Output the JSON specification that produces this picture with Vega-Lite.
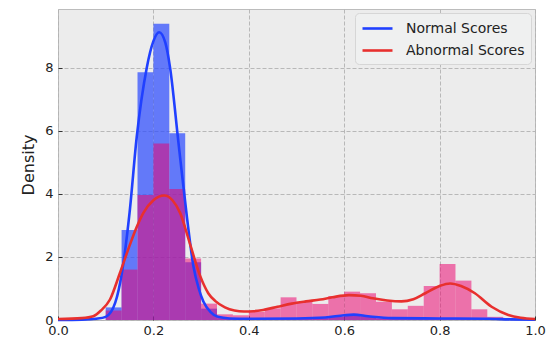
{
  "$schema": "https://vega.github.io/schema/vega-lite/v6.json",
  "width": 477,
  "height": 311,
  "autosize": {"type": "none"},
  "padding": {"left": 58, "top": 9, "right": 11, "bottom": 18},
  "background": "#ffffff",
  "config": {
    "view": {"fill": "#ececec", "stroke": "#bcbcbc", "strokeWidth": 1},
    "font": "DejaVu Sans",
    "axis": {
      "labelFont": "DejaVu Sans",
      "labelFontSize": 13,
      "labelColor": "#222222",
      "labelFlush": false,
      "titleFont": "DejaVu Sans",
      "titleFontWeight": "normal",
      "titleColor": "#222222",
      "domain": false,
      "grid": true,
      "gridColor": "#b2b2b2",
      "gridDash": [4, 2],
      "gridWidth": 0.9,
      "ticks": true,
      "tickSize": -4,
      "tickColor": "#333333",
      "tickWidth": 1
    },
    "legend": {
      "labelFont": "DejaVu Sans",
      "labelFontSize": 14,
      "labelColor": "#222222"
    }
  },
  "datasets": {
    "hist": [
      {"bin_start": 0.1000, "bin_end": 0.1333, "density": 0.40, "series": "Normal Scores"},
      {"bin_start": 0.1333, "bin_end": 0.1667, "density": 2.86, "series": "Normal Scores"},
      {"bin_start": 0.1667, "bin_end": 0.2000, "density": 7.86, "series": "Normal Scores"},
      {"bin_start": 0.2000, "bin_end": 0.2333, "density": 9.40, "series": "Normal Scores"},
      {"bin_start": 0.2333, "bin_end": 0.2667, "density": 5.93, "series": "Normal Scores"},
      {"bin_start": 0.2667, "bin_end": 0.3000, "density": 1.83, "series": "Normal Scores"},
      {"bin_start": 0.3000, "bin_end": 0.3333, "density": 0.36, "series": "Normal Scores"},
      {"bin_start": 0.3333, "bin_end": 0.3667, "density": 0.06, "series": "Normal Scores"},
      {"bin_start": 0.3667, "bin_end": 0.4000, "density": 0.04, "series": "Normal Scores"},
      {"bin_start": 0.4000, "bin_end": 0.4333, "density": 0.04, "series": "Normal Scores"},
      {"bin_start": 0.4333, "bin_end": 0.4667, "density": 0.04, "series": "Normal Scores"},
      {"bin_start": 0.4667, "bin_end": 0.5000, "density": 0.04, "series": "Normal Scores"},
      {"bin_start": 0.5000, "bin_end": 0.5333, "density": 0.05, "series": "Normal Scores"},
      {"bin_start": 0.5333, "bin_end": 0.5667, "density": 0.06, "series": "Normal Scores"},
      {"bin_start": 0.5667, "bin_end": 0.6000, "density": 0.10, "series": "Normal Scores"},
      {"bin_start": 0.6000, "bin_end": 0.6333, "density": 0.17, "series": "Normal Scores"},
      {"bin_start": 0.6333, "bin_end": 0.6667, "density": 0.12, "series": "Normal Scores"},
      {"bin_start": 0.6667, "bin_end": 0.7000, "density": 0.05, "series": "Normal Scores"},
      {"bin_start": 0.7000, "bin_end": 0.7333, "density": 0.04, "series": "Normal Scores"},
      {"bin_start": 0.7333, "bin_end": 0.7667, "density": 0.04, "series": "Normal Scores"},
      {"bin_start": 0.7667, "bin_end": 0.8000, "density": 0.05, "series": "Normal Scores"},
      {"bin_start": 0.8000, "bin_end": 0.8333, "density": 0.05, "series": "Normal Scores"},
      {"bin_start": 0.8333, "bin_end": 0.8667, "density": 0.04, "series": "Normal Scores"},
      {"bin_start": 0.8667, "bin_end": 0.9000, "density": 0.03, "series": "Normal Scores"},
      {"bin_start": 0.1000, "bin_end": 0.1333, "density": 0.30, "series": "Abnormal Scores"},
      {"bin_start": 0.1333, "bin_end": 0.1667, "density": 1.60, "series": "Abnormal Scores"},
      {"bin_start": 0.1667, "bin_end": 0.2000, "density": 3.97, "series": "Abnormal Scores"},
      {"bin_start": 0.2000, "bin_end": 0.2333, "density": 5.60, "series": "Abnormal Scores"},
      {"bin_start": 0.2333, "bin_end": 0.2667, "density": 4.16, "series": "Abnormal Scores"},
      {"bin_start": 0.2667, "bin_end": 0.3000, "density": 1.95, "series": "Abnormal Scores"},
      {"bin_start": 0.3000, "bin_end": 0.3333, "density": 0.52, "series": "Abnormal Scores"},
      {"bin_start": 0.3333, "bin_end": 0.3667, "density": 0.18, "series": "Abnormal Scores"},
      {"bin_start": 0.3667, "bin_end": 0.4000, "density": 0.15, "series": "Abnormal Scores"},
      {"bin_start": 0.4000, "bin_end": 0.4333, "density": 0.26, "series": "Abnormal Scores"},
      {"bin_start": 0.4333, "bin_end": 0.4667, "density": 0.37, "series": "Abnormal Scores"},
      {"bin_start": 0.4667, "bin_end": 0.5000, "density": 0.72, "series": "Abnormal Scores"},
      {"bin_start": 0.5000, "bin_end": 0.5333, "density": 0.58, "series": "Abnormal Scores"},
      {"bin_start": 0.5333, "bin_end": 0.5667, "density": 0.51, "series": "Abnormal Scores"},
      {"bin_start": 0.5667, "bin_end": 0.6000, "density": 0.76, "series": "Abnormal Scores"},
      {"bin_start": 0.6000, "bin_end": 0.6333, "density": 0.90, "series": "Abnormal Scores"},
      {"bin_start": 0.6333, "bin_end": 0.6667, "density": 0.85, "series": "Abnormal Scores"},
      {"bin_start": 0.6667, "bin_end": 0.7000, "density": 0.58, "series": "Abnormal Scores"},
      {"bin_start": 0.7000, "bin_end": 0.7333, "density": 0.34, "series": "Abnormal Scores"},
      {"bin_start": 0.7333, "bin_end": 0.7667, "density": 0.45, "series": "Abnormal Scores"},
      {"bin_start": 0.7667, "bin_end": 0.8000, "density": 1.08, "series": "Abnormal Scores"},
      {"bin_start": 0.8000, "bin_end": 0.8333, "density": 1.78, "series": "Abnormal Scores"},
      {"bin_start": 0.8333, "bin_end": 0.8667, "density": 1.25, "series": "Abnormal Scores"},
      {"bin_start": 0.8667, "bin_end": 0.9000, "density": 0.34, "series": "Abnormal Scores"},
      {"bin_start": 0.9000, "bin_end": 0.9333, "density": 0.10, "series": "Abnormal Scores"}
    ],
    "kde": [
      {"x": 0.00, "density": 0.00, "series": "Normal Scores"},
      {"x": 0.05, "density": 0.01, "series": "Normal Scores"},
      {"x": 0.08, "density": 0.04, "series": "Normal Scores"},
      {"x": 0.10, "density": 0.10, "series": "Normal Scores"},
      {"x": 0.12, "density": 0.55, "series": "Normal Scores"},
      {"x": 0.134, "density": 1.50, "series": "Normal Scores"},
      {"x": 0.15, "density": 3.40, "series": "Normal Scores"},
      {"x": 0.165, "density": 5.80, "series": "Normal Scores"},
      {"x": 0.186, "density": 8.00, "series": "Normal Scores"},
      {"x": 0.20, "density": 8.85, "series": "Normal Scores"},
      {"x": 0.212, "density": 9.13, "series": "Normal Scores"},
      {"x": 0.225, "density": 8.80, "series": "Normal Scores"},
      {"x": 0.235, "density": 8.00, "series": "Normal Scores"},
      {"x": 0.252, "density": 5.70, "series": "Normal Scores"},
      {"x": 0.27, "density": 3.30, "series": "Normal Scores"},
      {"x": 0.284, "density": 1.70, "series": "Normal Scores"},
      {"x": 0.295, "density": 1.00, "series": "Normal Scores"},
      {"x": 0.305, "density": 0.58, "series": "Normal Scores"},
      {"x": 0.32, "density": 0.25, "series": "Normal Scores"},
      {"x": 0.335, "density": 0.10, "series": "Normal Scores"},
      {"x": 0.36, "density": 0.05, "series": "Normal Scores"},
      {"x": 0.40, "density": 0.04, "series": "Normal Scores"},
      {"x": 0.50, "density": 0.05, "series": "Normal Scores"},
      {"x": 0.56, "density": 0.08, "series": "Normal Scores"},
      {"x": 0.60, "density": 0.15, "series": "Normal Scores"},
      {"x": 0.62, "density": 0.17, "series": "Normal Scores"},
      {"x": 0.65, "density": 0.12, "series": "Normal Scores"},
      {"x": 0.70, "density": 0.06, "series": "Normal Scores"},
      {"x": 0.80, "density": 0.05, "series": "Normal Scores"},
      {"x": 0.90, "density": 0.04, "series": "Normal Scores"},
      {"x": 0.95, "density": 0.02, "series": "Normal Scores"},
      {"x": 1.00, "density": 0.01, "series": "Normal Scores"},
      {"x": 0.00, "density": 0.03, "series": "Abnormal Scores"},
      {"x": 0.05, "density": 0.06, "series": "Abnormal Scores"},
      {"x": 0.074, "density": 0.12, "series": "Abnormal Scores"},
      {"x": 0.09, "density": 0.30, "series": "Abnormal Scores"},
      {"x": 0.109, "density": 0.65, "series": "Abnormal Scores"},
      {"x": 0.13, "density": 1.50, "series": "Abnormal Scores"},
      {"x": 0.151, "density": 2.40, "series": "Abnormal Scores"},
      {"x": 0.165, "density": 2.95, "series": "Abnormal Scores"},
      {"x": 0.179, "density": 3.40, "series": "Abnormal Scores"},
      {"x": 0.20, "density": 3.80, "series": "Abnormal Scores"},
      {"x": 0.223, "density": 3.95, "series": "Abnormal Scores"},
      {"x": 0.24, "density": 3.80, "series": "Abnormal Scores"},
      {"x": 0.256, "density": 3.40, "series": "Abnormal Scores"},
      {"x": 0.277, "density": 2.40, "series": "Abnormal Scores"},
      {"x": 0.298, "density": 1.40, "series": "Abnormal Scores"},
      {"x": 0.315, "density": 0.85, "series": "Abnormal Scores"},
      {"x": 0.33, "density": 0.60, "series": "Abnormal Scores"},
      {"x": 0.35, "density": 0.40, "series": "Abnormal Scores"},
      {"x": 0.37, "density": 0.30, "series": "Abnormal Scores"},
      {"x": 0.39, "density": 0.27, "series": "Abnormal Scores"},
      {"x": 0.41, "density": 0.28, "series": "Abnormal Scores"},
      {"x": 0.43, "density": 0.32, "series": "Abnormal Scores"},
      {"x": 0.46, "density": 0.42, "series": "Abnormal Scores"},
      {"x": 0.49, "density": 0.52, "series": "Abnormal Scores"},
      {"x": 0.52, "density": 0.59, "series": "Abnormal Scores"},
      {"x": 0.55, "density": 0.65, "series": "Abnormal Scores"},
      {"x": 0.575, "density": 0.72, "series": "Abnormal Scores"},
      {"x": 0.61, "density": 0.79, "series": "Abnormal Scores"},
      {"x": 0.635, "density": 0.77, "series": "Abnormal Scores"},
      {"x": 0.66, "density": 0.69, "series": "Abnormal Scores"},
      {"x": 0.69, "density": 0.62, "series": "Abnormal Scores"},
      {"x": 0.72, "density": 0.59, "series": "Abnormal Scores"},
      {"x": 0.745, "density": 0.66, "series": "Abnormal Scores"},
      {"x": 0.77, "density": 0.85, "series": "Abnormal Scores"},
      {"x": 0.80, "density": 1.08, "series": "Abnormal Scores"},
      {"x": 0.822, "density": 1.16, "series": "Abnormal Scores"},
      {"x": 0.845, "density": 1.08, "series": "Abnormal Scores"},
      {"x": 0.874, "density": 0.85, "series": "Abnormal Scores"},
      {"x": 0.909, "density": 0.42, "series": "Abnormal Scores"},
      {"x": 0.944, "density": 0.16, "series": "Abnormal Scores"},
      {"x": 0.97, "density": 0.07, "series": "Abnormal Scores"},
      {"x": 1.00, "density": 0.03, "series": "Abnormal Scores"}
    ]
  },
  "layer": [
    {
      "data": {"name": "hist"},
      "transform": [{"filter": "datum.series === 'Normal Scores'"}],
      "mark": {"type": "rect", "fill": "#2a48ff", "fillOpacity": 0.7, "strokeWidth": 0},
      "encoding": {
        "x": {"field": "bin_start", "type": "quantitative", "scale": {"domain": [0, 1], "nice": false, "zero": false},
              "axis": {"values": [0, 0.2, 0.4, 0.6, 0.8, 1.0], "format": ".1f", "title": null, "labelPadding": 8}},
        "x2": {"field": "bin_end"},
        "y": {"field": "density", "type": "quantitative", "scale": {"domain": [0, 9.87], "nice": false},
              "axis": {"values": [0, 2, 4, 6, 8], "format": "d", "title": "Density", "titleFontSize": 16, "titlePadding": 8, "labelPadding": 9}},
        "y2": {"datum": 0}
      }
    },
    {
      "data": {"name": "hist"},
      "transform": [{"filter": "datum.series === 'Abnormal Scores'"}],
      "mark": {"type": "rect", "fill": "#eb006e", "fillOpacity": 0.52, "strokeWidth": 0},
      "encoding": {
        "x": {"field": "bin_start", "type": "quantitative"},
        "x2": {"field": "bin_end"},
        "y": {"field": "density", "type": "quantitative"},
        "y2": {"datum": 0}
      }
    },
    {
      "data": {"name": "kde"},
      "mark": {"type": "line", "strokeWidth": 2.6, "interpolate": "monotone"},
      "encoding": {
        "x": {"field": "x", "type": "quantitative"},
        "y": {"field": "density", "type": "quantitative"},
        "color": {
          "field": "series", "type": "nominal",
          "scale": {"domain": ["Normal Scores", "Abnormal Scores"], "range": ["#2040ff", "#e8302e"]},
          "legend": {
            "title": null,
            "orient": "top-right",
            "offset": 4,
            "padding": 6,
            "fillColor": "#eff0f0",
            "strokeColor": "#d6d6d6",
            "cornerRadius": 4,
            "symbolType": "M-1,0H2.75",
            "symbolSize": 256,
            "symbolStrokeWidth": 2.6,
            "labelOffset": 26,
            "rowPadding": 5
          }
        }
      }
    }
  ]
}
